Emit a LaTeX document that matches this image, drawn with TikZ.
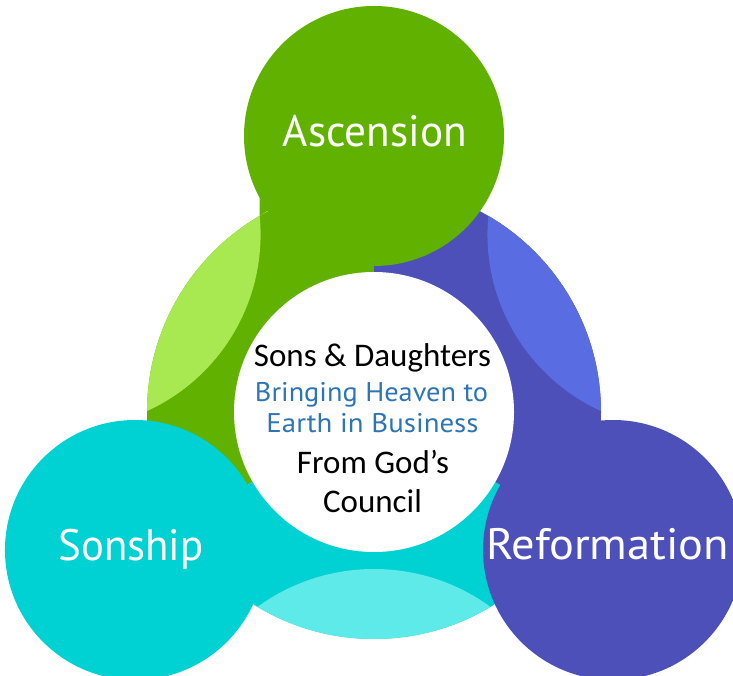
\documentclass[tikz,border=0pt]{standalone}
\usepackage{fontspec}
\usepackage{graphicx}
\setmainfont{Carlito}
\newfontfamily\hand{PT Sans}
\definecolor{dgreen}{RGB}{97,178,0}
\definecolor{lgreen}{RGB}{168,232,80}
\definecolor{dblue}{RGB}{76,80,184}
\definecolor{lblue}{RGB}{90,108,226}
\definecolor{dcyan}{RGB}{0,209,211}
\definecolor{lcyan}{RGB}{94,234,232}
\definecolor{txtblue}{RGB}{46,117,182}
\newcommand{\fitw}[2]{\resizebox{#1}{\height}{#2}}
\tikzset{
  lbl/.style={anchor=base, inner sep=0pt, text=white, font=\hand\fontsize{44}{50}\selectfont},
  ctxt/.style={anchor=base, inner sep=0pt, text=black, font=\fontsize{33}{39}\selectfont},
  btxt/.style={anchor=base, inner sep=0pt, text=txtblue, font=\hand\fontsize{27}{32}\selectfont}
}
\begin{document}
\begin{tikzpicture}[x=1pt,y=1pt]
\useasboundingbox (0,0) rectangle (733,675);
\begin{scope}
\clip (0,0) rectangle (733,675);
\begin{scope}[shift={(374,263)}]
  % ring with dark sectors and light lenses
  \begin{scope}
    \clip (0,0) circle (227);
    \fill[dgreen] (0,0) -- (90:300) arc[start angle=90,end angle=210,radius=300] -- cycle;
    \fill[dcyan] (0,0) -- (210:300) arc[start angle=210,end angle=330,radius=300] -- cycle;
    \fill[dblue] (0,0) -- (330:300) arc[start angle=330,end angle=450,radius=300] -- cycle;
    \fill[lgreen] (150:355) circle (194);
    \fill[lblue] (30:355) circle (194);
    \fill[lcyan] (270:355) circle (198);
  \end{scope}
  % small fillet at the left neck of the top lobe
  \fill[dgreen] (-114.5,214) -- (-114.5,196) -- (-105,202) -- cycle;
  % lobes
  \fill[dgreen] (90:276) circle (130);
  \fill[dcyan] (210:276) circle (130);
  \fill[dblue] (330:276) circle (130);
  % centre disk
  \fill[white] (0,0) circle (140);
\end{scope}
\end{scope}
\node[lbl] (asc) at (375,528) {\fitw{184pt}{Ascension}};
\node[lbl] (son) at (131,115) {\fitw{145pt}{Sonship}};
\node[lbl] (ref) at (607.5,116) {\fitw{243pt}{Reformation}};
\node[ctxt] (l1) at (372.5,308) {Sons \& Daughters};
\node[btxt] (l2) at (371.5,273) {\fitw{233pt}{Bringing Heaven to}};
\node[btxt] (l3) at (372.5,242) {\fitw{212pt}{Earth in Business}};
\node[ctxt] (l4) at (373,202) {From God’s};
\node[ctxt] (l5) at (372.5,163) {Council};
\end{tikzpicture}
\end{document}
